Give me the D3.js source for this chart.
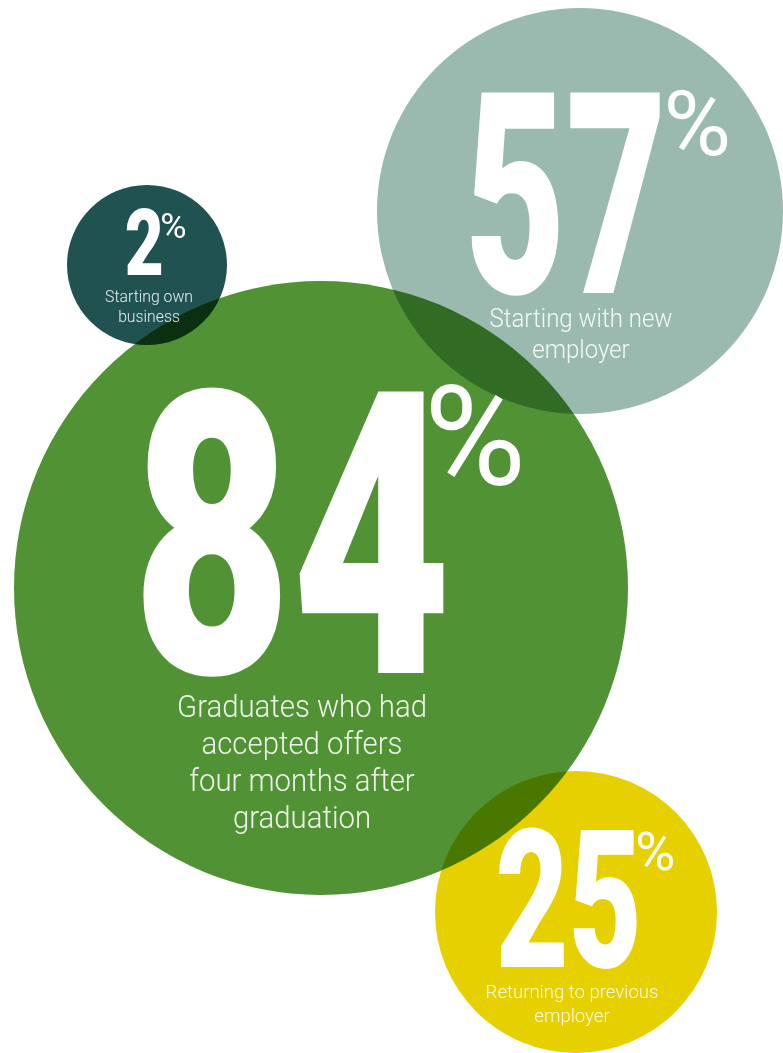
<!DOCTYPE html>
<html>
<head>
<meta charset="utf-8">
<script src="https://cdn.jsdelivr.net/npm/d3@7"></script>
<style>
  html, body { margin: 0; padding: 0; background: #fff; }
  svg { display: block; }
  .bubble { mix-blend-mode: multiply; }
</style>
</head>
<body>
<script>
// values shown in the bubbles
const values = [2, 57, 84, 25];
const labels = [
  ["Starting own", "business"],
  ["Starting with new", "employer"],
  ["Graduates who had", "accepted offers", "four months after", "graduation"],
  ["Returning to previous", "employer"]
];
const colours = ["#215252", "#9abab0", "#519234", "#e6d000"];

// layout of each bubble (circle + ink boxes of the texts)
const layout = [
  { cx: 147, cy: 265, r: 80,
    num: { left: 126, base: 275, h: 67, w: 35 }, pct: { left: 162, top: 213, h: 25, w: 23 },
    lab: { x: 149, base: 302, size: 16, lead: 20, w: 88 } },
  { cx: 580, cy: 211, r: 203,
    num: { left: 470, base: 293, h: 203, w: 190 }, pct: { left: 668, top: 90, h: 65, w: 59 },
    lab: { x: 581, base: 327, size: 26, lead: 31, w: 183 } },
  { cx: 321, cy: 588, r: 307,
    num: { left: 143, base: 673, h: 285, w: 303 }, pct: { left: 431, top: 385, h: 100, w: 89 },
    lab: { x: 302, base: 717, size: 31, lead: 37, w: 250 } },
  { cx: 576, cy: 912, r: 141,
    num: { left: 498, base: 967, h: 139, w: 139 }, pct: { left: 638, top: 832, h: 38, w: 35 },
    lab: { x: 572, base: 998, size: 19, lead: 24, w: 173 } }
];

const width = 783, height = 1053;
const FONT = "Roboto, 'DejaVu Sans', sans-serif";

const svg = d3.select("body").append("svg")
  .attr("width", width)
  .attr("height", height);

const items = values.map((v, i) => ({ value: v, label: labels[i], colour: colours[i], ...layout[i] }));

// circles, multiplied where they overlap
svg.append("g")
  .selectAll("circle")
  .data(items)
  .join("circle")
  .attr("class", "bubble")
  .attr("cx", d => d.cx)
  .attr("cy", d => d.cy)
  .attr("r", d => d.r)
  .attr("fill", d => d.colour);

const textLayer = svg.append("g");
const ctx = document.createElement("canvas").getContext("2d");

// ink metrics of a string at 100px
function ink(str, weight) {
  ctx.font = weight + " 100px " + FONT;
  const m = ctx.measureText(str);
  return { l: m.actualBoundingBoxLeft, r: m.actualBoundingBoxRight, a: m.actualBoundingBoxAscent };
}

// draw a string so its ink fills the box (left, base, w, h)
function inkText(str, weight, box) {
  const m = ink(str, weight);
  const size = 100 * box.h / m.a;
  const k = size / 100;
  const sx = box.w / ((m.l + m.r) * k);
  textLayer.append("text")
    .attr("fill", "#fff")
    .style("font-family", FONT)
    .style("font-weight", weight)
    .style("font-size", size + "px")
    .attr("transform", "translate(" + (box.left + m.l * k * sx) + "," + box.base + ") scale(" + sx + ",1)")
    .text(str);
}

items.forEach(function(d) {
  // big number
  inkText(String(d.value), 900, d.num);

  // superscript percent sign
  inkText("%", 400, { left: d.pct.left, base: d.pct.top + d.pct.h, w: d.pct.w, h: d.pct.h });

  // caption lines
  const lines = textLayer.append("g").selectAll("text")
    .data(d.label)
    .join("text")
    .attr("fill", "#fff")
    .attr("fill-opacity", 0.9)
    .attr("text-anchor", "middle")
    .style("font-family", FONT)
    .style("font-weight", 300)
    .style("font-size", d.lab.size + "px")
    .text(t => t);
  const sx = d.lab.w / lines.node().getComputedTextLength();
  lines.attr("transform", (t, j) => "translate(" + d.lab.x + "," + (d.lab.base + j * d.lab.lead) + ") scale(" + sx + ",1)");
});
</script>
</body>
</html>
